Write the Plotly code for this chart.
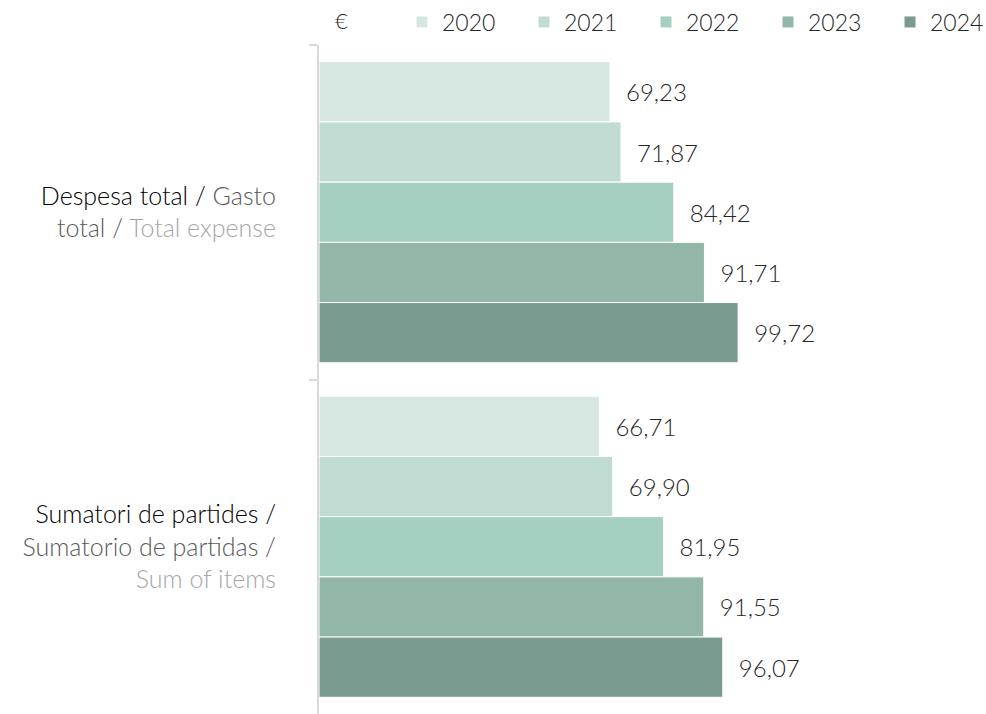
import plotly.graph_objects as go

categories = [
    "<span style='color:#000000'>Despesa total /</span> <span style='color:#595959'>Gasto</span><br><span style='color:#595959'>total /</span> <span style='color:#a6a6a6'>Total expense</span>",
    "<span style='color:#000000'>Sumatori de partides /</span><br><span style='color:#595959'>Sumatorio de partidas /</span><br><span style='color:#a6a6a6'>Sum of items</span>",
]
years = ["2020", "2021", "2022", "2023", "2024"]
values = {
    "2020": [69.23, 66.71],
    "2021": [71.87, 69.90],
    "2022": [84.42, 81.95],
    "2023": [91.71, 91.55],
    "2024": [99.72, 96.07],
}
colors = ["#d5e7e0", "#c0dcd2", "#a5d0c1", "#92b7a9", "#7a9b8f"]

FONT = "Lato"
W = 300

fig = go.Figure()
for yr, col in zip(years, colors):
    fig.add_trace(go.Bar(
        name=yr, y=categories, x=values[yr], orientation="h",
        marker=dict(color=col, line=dict(color="white", width=1)),
        text=values[yr], texttemplate="\u00a0\u00a0%{x:.2f}",
        textposition="outside", cliponaxis=False,
        textfont=dict(family=FONT, size=24, color="#262626", weight=W),
    ))

fig.update_layout(
    width=986, height=714,
    margin=dict(l=319, r=0, t=45, b=0, autoexpand=False),
    plot_bgcolor="white", paper_bgcolor="white",
    barmode="group", bargap=0.1, bargroupgap=0,
    separators=",.",
    font=dict(family=FONT, size=24, color="#262626", weight=W),
    legend=dict(orientation="h", x=(402-319)/667, xanchor="left", y=1 + (45-22)/669, yanchor="middle",
                font=dict(family=FONT, size=23, color="#262626", weight=W),
                entrywidth=77, entrywidthmode="pixels", traceorder="normal",
                itemclick=False, bgcolor="rgba(0,0,0,0)"),
    showlegend=True,
)
fig.update_xaxes(range=[0, 158.7], visible=False)
fig.update_yaxes(autorange="reversed", showline=True, linecolor="#d9d9d9", linewidth=2,
                 ticks="outside", tickson="boundaries", ticklen=8, tickcolor="#d9d9d9",
                 tickwidth=2, ticklabelstandoff=36, showgrid=False,
                 tickfont=dict(family=FONT, size=25, weight=W))
fig.add_annotation(text="€", xref="paper", yref="paper",
                   x=(341-319)/667, y=1 + (45-20)/669, xanchor="center", yanchor="middle",
                   showarrow=False,
                   font=dict(family=FONT, size=22, color="#262626", weight=W))

fig.write_html("out.html", config={"displayModeBar": False},
               post_script="document.body.style.margin='0';")
